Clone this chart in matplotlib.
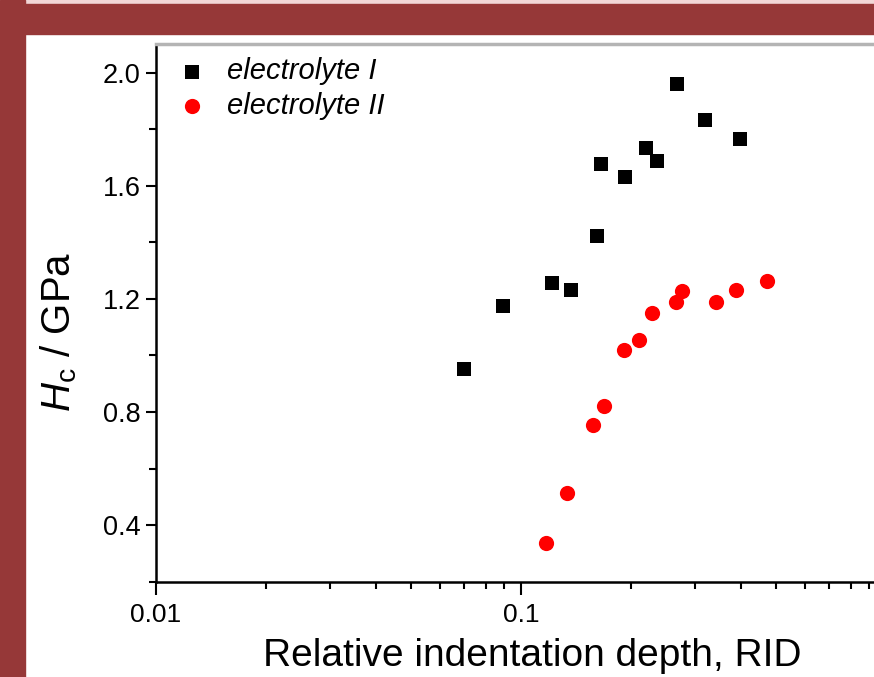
import matplotlib
matplotlib.use("Agg")
import matplotlib.pyplot as plt
from matplotlib.patches import Rectangle
from matplotlib.ticker import LogLocator, MultipleLocator, FuncFormatter

plt.rcParams['font.family'] = ['Liberation Sans', 'DejaVu Sans']
plt.rcParams['mathtext.fontset'] = 'custom'
plt.rcParams['mathtext.rm'] = 'Liberation Sans'
plt.rcParams['mathtext.it'] = 'Liberation Sans:italic'

# Data
rid_I = [0.0697, 0.0892, 0.1217, 0.1372, 0.1618, 0.1659, 0.1931, 0.2205, 0.2353, 0.2678, 0.3197, 0.3990]
hc_I = [0.953, 1.173, 1.255, 1.233, 1.423, 1.678, 1.630, 1.733, 1.689, 1.960, 1.833, 1.765]
rid_II = [0.1169, 0.1340, 0.1570, 0.1683, 0.1910, 0.2101, 0.2290, 0.2661, 0.2764, 0.3419, 0.3880, 0.4711]
hc_II = [0.336, 0.512, 0.754, 0.822, 1.018, 1.055, 1.151, 1.188, 1.227, 1.190, 1.232, 1.263]
labels = ['electrolyte I', 'electrolyte II']
x_ticks = [0.01, 0.1, 1]
x_ticklabels = ['0.01', '0.1', '']

W, H = 874, 677
fig = plt.figure(figsize=(W / 100, H / 100), dpi=100)
fig.patch.set_facecolor('white')

red = '#963838'
pink = '#f2d7d7'
# border decoration (figure coords)
fig.patches.append(Rectangle((0, 1 - 4 / H), 1, 4 / H, transform=fig.transFigure, color=pink, zorder=0))
fig.patches.append(Rectangle((0, 1 - 34 / H), 1, 30 / H, transform=fig.transFigure, color=red, zorder=1))
fig.patches.append(Rectangle((0, 0), 25 / W, 1, transform=fig.transFigure, color=red, zorder=1))

left, right = 156, 886
bottom, top = 581.7, 44.3
ax = fig.add_axes([left / W, (H - bottom) / H, (right - left) / W, (bottom - top) / H])

ax.scatter(rid_I, hc_I, marker='s', s=95, color='black', label=labels[0], zorder=3, linewidths=0)
ax.scatter(rid_II, hc_II, marker='o', s=120, color='red', label=labels[1], zorder=3, linewidths=0)

ax.set_xscale('log')
ax.set_xlim(0.01, 1)
ax.set_ylim(0.2, 2.1)

ax.xaxis.set_minor_locator(LogLocator(base=10, subs=range(2, 10), numticks=20))
ax.set_xticks(x_ticks)
ax.set_xticklabels(x_ticklabels)
ax.yaxis.set_major_locator(MultipleLocator(0.4))
ax.yaxis.set_minor_locator(MultipleLocator(0.2))
ax.yaxis.set_major_formatter(FuncFormatter(lambda v, p: f"{v:.1f}"))

ax.tick_params(axis='both', which='major', direction='out', length=7.5, width=1.5, labelsize=19.5, pad=3.5)
ax.tick_params(axis='both', which='minor', direction='out', length=5, width=1.5)
ax.tick_params(axis='x', which='major', length=9, pad=6, labelsize=19)

for s in ['left', 'bottom']:
    ax.spines[s].set_linewidth(1.8)
    ax.spines[s].set_color('black')
ax.spines['top'].set_color('#b4b4b4')
ax.spines['top'].set_linewidth(2.5)
ax.spines['right'].set_visible(False)

ax.set_xlabel('Relative indentation depth, RID', fontsize=28)
ax.xaxis.set_label_coords(0.515, -0.105)
ax.set_ylabel(r'$H_\mathrm{c}$ / GPa', fontsize=29)
ax.yaxis.set_label_coords(-0.105, 0.465)

leg = ax.legend(loc='upper left', frameon=False, prop={'style': 'italic', 'size': 21},
                handletextpad=0.45, borderaxespad=0.1, labelspacing=0.22, bbox_to_anchor=(0.0, 1.003),
                handlelength=1.5)

fig.savefig('out.png', dpi=100)
